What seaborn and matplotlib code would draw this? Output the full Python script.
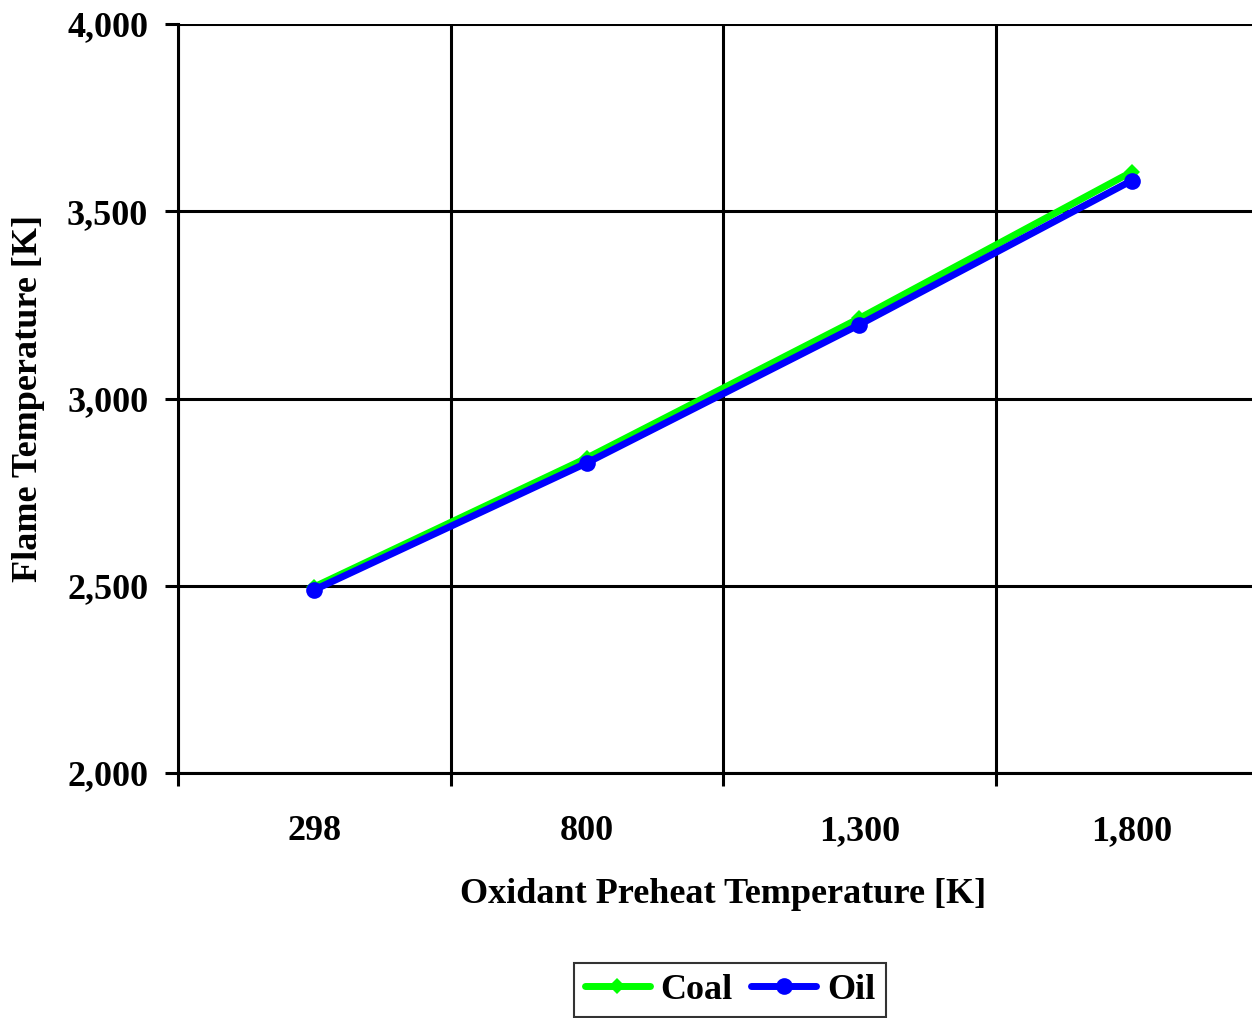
import matplotlib
matplotlib.use("Agg")
import numpy as np
import pandas as pd
import matplotlib.pyplot as plt
import seaborn as sns

# values
preheat_labels = ["298", "800", "1,300", "1,800"]
coal_temp = [2497, 2841, 3214, 3605]
oil_temp = [2489, 2828, 3197, 3582]
y_ticks = [2000, 2500, 3000, 3500, 4000]

sns.set_theme(style="white")
plt.rcParams['font.family'] = ['Liberation Serif', 'DejaVu Serif']
plt.rcParams['font.weight'] = 'bold'
plt.rcParams['text.color'] = 'black'
plt.rcParams['axes.labelcolor'] = 'black'
plt.rcParams['xtick.color'] = 'black'
plt.rcParams['ytick.color'] = 'black'

fig = plt.figure(figsize=(12.52, 10.18), dpi=100)
ax = fig.add_axes([178 / 1252, 1 - 773 / 1018, 1090 / 1252, 749 / 1018])

pos = np.arange(len(preheat_labels))
sns.lineplot(x=pos, y=coal_temp, ax=ax, color="#00FF00", lw=5, marker="D",
             markersize=8, markeredgewidth=0, label="Coal", zorder=4)
sns.lineplot(x=pos, y=oil_temp, ax=ax, color="#0000FF", lw=5, marker="o",
             markersize=12, markeredgewidth=0, label="Oil", zorder=5)

ax.set_xlim(-0.5, len(preheat_labels) - 0.5)
ax.set_ylim(2000, 4000)

ax.set_xticks(pos)
ax.set_xticklabels(preheat_labels)
ax.set_xticks(np.arange(-0.5, len(preheat_labels)), minor=True)
ax.tick_params(axis="x", which="major", length=0, pad=30, labelsize=26)
ax.tick_params(axis="x", which="minor", length=9.5, width=2.2, direction="out",
               color="black", bottom=True)

ax.set_yticks(y_ticks)
ax.set_yticklabels([f"{v:,}" for v in y_ticks])
ax.tick_params(axis="y", which="major", length=9.5, width=2.2, direction="out",
               color="black", left=True, pad=12, labelsize=26)

ax.grid(False)
ax.yaxis.grid(True, which="major", color="black", lw=2.2)
ax.xaxis.grid(True, which="minor", color="black", lw=2.2)

for side in ["top", "right"]:
    ax.spines[side].set_visible(False)
for side in ["left", "bottom"]:
    ax.spines[side].set_color("black")
    ax.spines[side].set_linewidth(2.2)

ax.set_xlabel("Oxidant Preheat Temperature [K]", fontsize=26, fontweight="bold",
              labelpad=22)
ax.set_ylabel("Flame Temperature [K]", fontsize=26, fontweight="bold", labelpad=16)

ax.get_legend().remove()
handles, labels = ax.get_legend_handles_labels()
leg = fig.legend(handles, labels, loc="center", bbox_to_anchor=(730 / 1252, 1 - 990 / 1018),
                 ncol=2, fontsize=26, frameon=True, fancybox=False, handlelength=1.8,
                 handletextpad=0.3, columnspacing=0.5, borderpad=0.3)
leg.get_frame().set_edgecolor("black")
leg.get_frame().set_linewidth(1.5)

fig.savefig("out.png", dpi=100)
